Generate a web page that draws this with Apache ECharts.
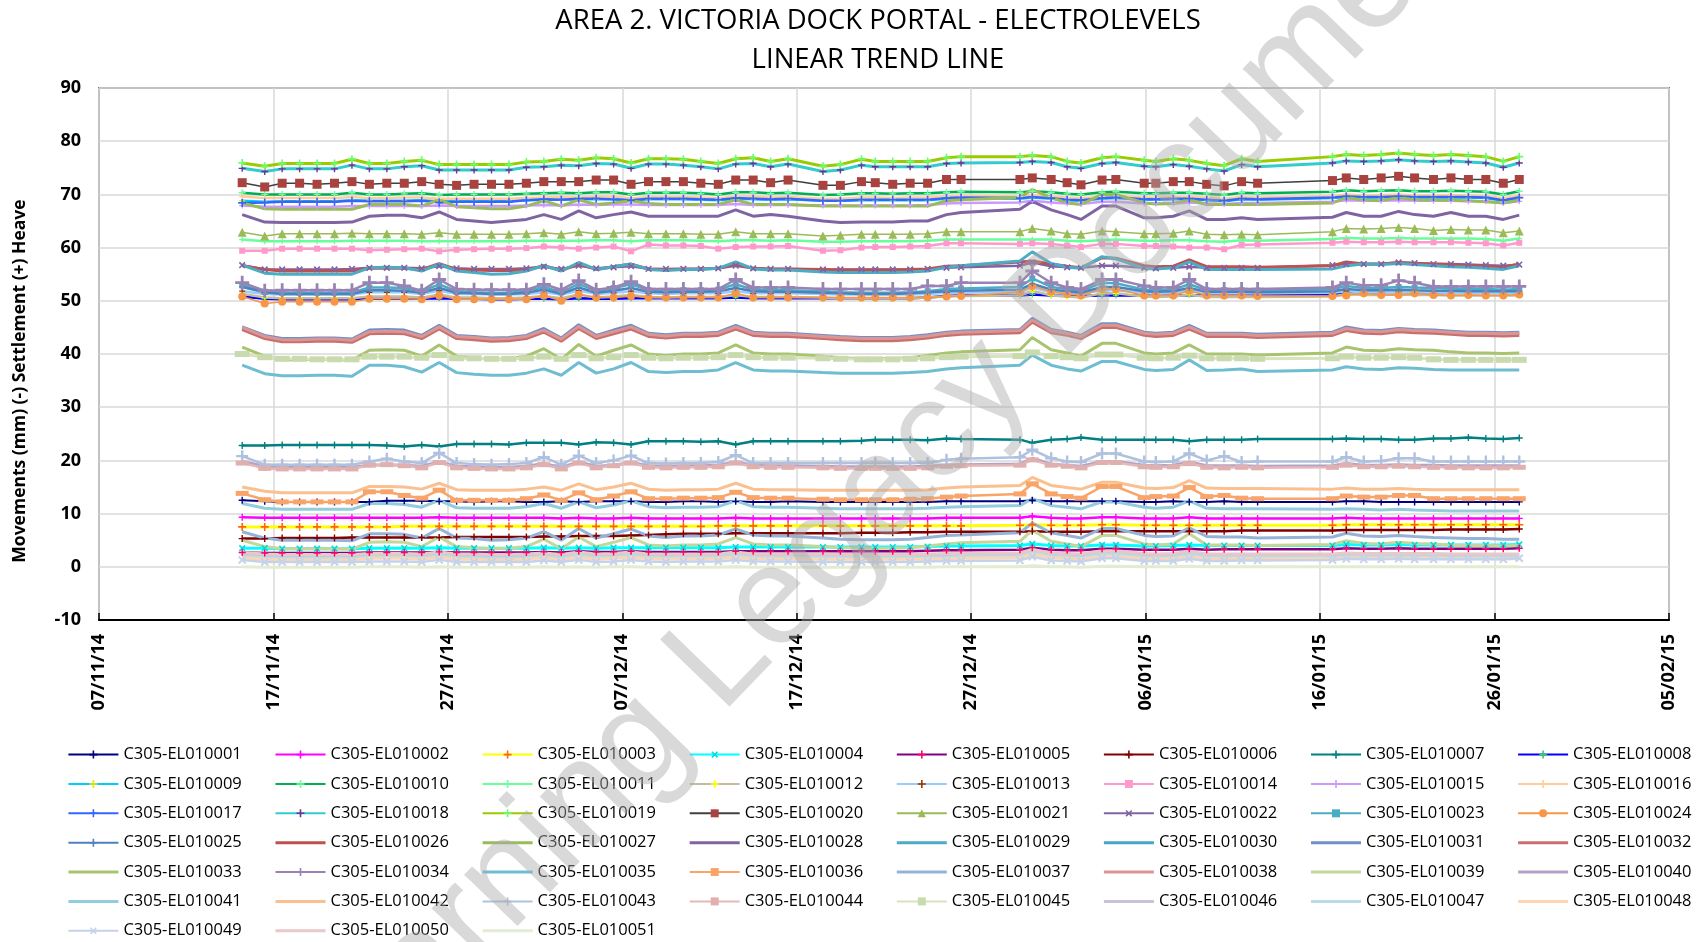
<!DOCTYPE html>
<html>
<head>
<meta charset="utf-8">
<script src="https://cdn.jsdelivr.net/npm/echarts@6/dist/echarts.min.js"></script>
<style>
html, body {margin:0; padding:0; background:#fff;}
#chart {width:1705px; height:942px;}
</style>
</head>
<body>
<div id="chart"></div>
<script>
// reading dates (one per marker on the chart)
const dates = [
  '2014-11-15 05:00','2014-11-16 12:00','2014-11-17 12:00','2014-11-18 12:00','2014-11-19 12:00','2014-11-20 12:00','2014-11-21 12:00','2014-11-22 12:00','2014-11-23 12:00','2014-11-24 12:00','2014-11-25 12:00','2014-11-26 12:00','2014-11-27 12:00','2014-11-28 12:00','2014-11-29 12:00','2014-11-30 12:00','2014-12-01 12:00',
  '2014-12-02 12:00','2014-12-03 12:00','2014-12-04 12:00','2014-12-05 12:00','2014-12-06 12:00','2014-12-07 12:00','2014-12-08 12:00','2014-12-09 12:00','2014-12-10 12:00','2014-12-11 12:00','2014-12-12 12:00','2014-12-13 12:00','2014-12-14 12:00','2014-12-15 12:00','2014-12-16 12:00','2014-12-18 12:00','2014-12-19 12:00',
  '2014-12-20 17:00','2014-12-21 12:00','2014-12-22 12:00','2014-12-23 12:00','2014-12-24 12:00','2014-12-25 14:00','2014-12-26 10:00','2014-12-29 19:00','2014-12-30 12:00','2014-12-31 14:00','2015-01-01 12:00','2015-01-02 07:00','2015-01-03 12:00','2015-01-04 07:00','2015-01-05 22:00','2015-01-06 14:00','2015-01-07 14:00',
  '2015-01-08 12:00','2015-01-09 12:00','2015-01-10 12:00','2015-01-11 12:00','2015-01-12 10:00','2015-01-16 17:00','2015-01-17 12:00','2015-01-18 12:00','2015-01-19 12:00','2015-01-20 12:00','2015-01-21 10:00','2015-01-22 12:00','2015-01-23 12:00','2015-01-24 12:00','2015-01-25 12:00','2015-01-26 12:00','2015-01-27 10:00'
];

// movements (mm) per electrolevel
const el001 = [12.5,12.3,12.2,12.2,12.2,12.2,12.2,12.2,12.4,12.4,12.4,12.3,12.3,12.2,12.3,12.3,12.2,
  12.2,12.3,12.2,12.3,12.3,12.3,12.2,12.2,12.3,12.3,12.2,12.3,12.2,12.2,12.3,12.2,12.2,
  12.2,12.2,12.2,12.2,12.2,12.3,12.3,12.3,12.5,12.3,12.3,12.3,12.3,12.3,12.2,12.2,12.3,
  12.2,12.2,12.3,12.2,12.2,12.2,12.3,12.3,12.2,12.2,12.2,12.2,12.2,12.2,12.2,12.2,12.2];
const el002 = [9.3,9.2,9.2,9.2,9.2,9.2,9.2,9.2,9.2,9.2,9.2,9.3,9.2,9.2,9.2,9.2,9.2,
  9.2,9.1,9.2,9.1,9.1,9.2,9.1,9.1,9.1,9.1,9.1,9.2,9.1,9.1,9.1,9.1,9.1,
  9.1,9.1,9.1,9.1,9.1,9.2,9.2,9.2,9.5,9.2,9.1,9.1,9.3,9.3,9.1,9.1,9.1,
  9.3,9.1,9.1,9.1,9.1,9.1,9.2,9.1,9.1,9.1,9.1,9.1,9.1,9.1,9.1,9.1,9.1];
const el003 = [7.5,7.5,7.5,7.5,7.5,7.5,7.5,7.5,7.5,7.6,7.6,7.6,7.6,7.6,7.6,7.6,7.6,
  7.6,7.6,7.6,7.6,7.6,7.6,7.6,7.6,7.6,7.6,7.7,7.7,7.7,7.7,7.7,7.7,7.7,
  7.7,7.7,7.7,7.7,7.7,7.7,7.7,7.8,7.9,7.8,7.8,7.8,7.9,7.9,7.8,7.8,7.8,
  7.8,7.8,7.8,7.8,7.8,7.8,7.9,7.9,7.9,7.9,7.9,7.9,7.9,7.9,7.9,7.9,7.9];
const el004 = [3.5,3.5,3.4,3.4,3.4,3.4,3.4,3.5,3.5,3.5,3.5,3.6,3.5,3.5,3.5,3.5,3.5,
  3.6,3.5,3.6,3.5,3.6,3.6,3.6,3.6,3.6,3.6,3.6,3.7,3.7,3.7,3.7,3.7,3.7,
  3.7,3.7,3.7,3.7,3.8,3.9,3.9,4.0,4.3,4.0,3.9,3.9,4.1,4.1,3.9,3.9,4.0,
  4.1,4.0,4.0,4.0,4.0,4.0,4.2,4.1,4.1,4.2,4.1,4.1,4.1,4.1,4.1,4.1,4.2];
const el005 = [2.7,2.6,2.6,2.6,2.6,2.6,2.6,2.7,2.7,2.7,2.7,2.8,2.7,2.7,2.7,2.7,2.7,
  2.8,2.7,2.9,2.8,2.8,2.9,2.8,2.8,2.8,2.8,2.8,2.9,2.9,2.9,2.9,2.9,2.9,
  2.9,2.9,2.9,2.9,3.0,3.1,3.1,3.2,3.6,3.2,3.1,3.1,3.4,3.4,3.2,3.2,3.2,
  3.4,3.2,3.3,3.3,3.3,3.3,3.5,3.4,3.4,3.5,3.4,3.4,3.4,3.4,3.4,3.4,3.5];
const el006 = [5.3,5.3,5.4,5.4,5.4,5.4,5.5,5.5,5.5,5.5,5.5,5.5,5.6,5.6,5.6,5.6,5.6,
  5.7,5.7,5.8,5.8,5.8,5.9,6.0,6.1,6.2,6.2,6.2,6.3,6.3,6.3,6.3,6.3,6.3,
  6.4,6.4,6.4,6.5,6.5,6.6,6.6,6.6,6.7,6.6,6.6,6.6,6.7,6.7,6.7,6.7,6.7,
  6.7,6.7,6.7,6.8,6.8,6.8,6.9,6.9,6.9,6.9,6.9,6.9,7.0,7.0,7.0,7.0,7.1];
const el007 = [22.8,22.8,22.9,22.9,22.9,22.9,22.9,22.9,22.8,22.6,22.9,22.6,23.1,23.1,23.1,23.0,23.3,
  23.3,23.3,23.0,23.4,23.3,23.0,23.6,23.6,23.6,23.5,23.6,23.0,23.6,23.6,23.6,23.6,23.6,
  23.7,23.9,23.9,23.9,23.8,24.1,24.0,23.9,23.3,23.9,24.0,24.3,23.9,23.9,23.9,23.9,23.9,
  23.6,23.9,23.9,23.9,24.0,24.0,24.1,24.0,24.0,23.9,23.9,24.1,24.1,24.3,24.1,24.0,24.2];
const el008 = [50.8,50.4,50.3,50.3,50.3,50.3,50.3,50.4,50.4,50.4,50.4,50.5,50.4,50.4,50.3,50.3,50.4,
  50.4,50.3,50.5,50.4,50.4,50.5,50.5,50.5,50.5,50.5,50.5,50.6,50.5,50.5,50.5,50.5,50.5,
  50.5,50.5,50.5,50.5,50.6,50.9,51.0,51.0,51.2,51.0,50.9,50.9,51.0,51.0,51.0,50.9,51.0,
  51.1,51.0,51.0,51.0,51.0,51.1,51.6,51.6,51.6,51.7,51.6,51.6,51.6,51.6,51.6,51.6,51.7];
const el009 = [68.8,68.6,68.7,68.7,68.7,68.7,68.9,68.8,68.8,68.8,68.9,68.7,68.7,68.7,68.7,68.7,68.9,
  69.0,69.0,69.1,69.1,69.1,68.9,69.1,69.1,69.1,69.0,68.9,69.2,69.1,69.0,69.1,68.8,68.8,
  68.9,68.9,68.9,68.9,68.9,69.2,69.3,69.2,69.4,69.2,68.9,68.8,69.2,69.3,69.0,69.0,69.1,
  69.1,68.9,68.7,69.1,69.0,69.3,69.5,69.4,69.4,69.5,69.4,69.4,69.4,69.4,69.3,68.8,69.3];
const el010 = [70.3,70.0,70.0,70.0,70.0,70.0,70.3,70.0,70.0,70.1,70.2,69.9,70.0,70.0,70.0,70.0,70.1,
  70.2,70.3,70.2,70.4,70.4,70.0,70.3,70.3,70.3,70.2,70.0,70.4,70.4,70.2,70.3,69.9,70.0,
  70.2,70.2,70.1,70.2,70.2,70.4,70.5,70.4,70.6,70.4,70.1,70.0,70.4,70.5,70.2,70.2,70.3,
  70.3,70.1,69.9,70.3,70.2,70.5,70.8,70.6,70.7,70.8,70.6,70.6,70.7,70.6,70.5,70.0,70.6];
const el011 = [61.5,61.2,61.2,61.2,61.2,61.2,61.3,61.3,61.3,61.3,61.2,61.2,61.2,61.2,61.2,61.2,61.3,
  61.3,61.3,61.3,61.4,61.4,61.2,61.4,61.4,61.4,61.3,61.2,61.4,61.4,61.3,61.4,61.1,61.1,
  61.2,61.2,61.2,61.2,61.3,61.5,61.5,61.5,61.5,61.5,61.3,61.2,61.4,61.5,61.3,61.3,61.4,
  61.4,61.2,61.1,61.4,61.3,61.6,61.8,61.7,61.7,61.8,61.7,61.7,61.7,61.7,61.6,61.3,61.7];
const el012 = [51.3,50.6,50.5,50.5,50.5,50.5,50.5,50.8,50.8,50.8,50.6,51.2,50.6,50.6,50.5,50.5,50.6,
  50.9,50.5,51.2,50.6,50.8,51.1,50.7,50.6,50.7,50.7,50.7,51.1,50.7,50.7,50.7,50.6,50.5,
  50.5,50.5,50.5,50.5,50.6,50.8,50.9,51.0,51.9,51.0,50.8,50.6,51.4,51.4,50.8,50.7,50.8,
  51.2,50.7,50.7,50.7,50.7,50.8,51.3,51.1,51.1,51.2,51.1,51.1,51.0,51.0,51.0,51.0,51.0];
const el013 = [51.8,51.3,51.2,51.2,51.2,51.2,51.2,51.6,51.6,51.6,51.3,51.9,51.3,51.3,51.2,51.2,51.3,
  51.6,51.2,51.9,51.3,51.5,51.8,51.4,51.3,51.4,51.4,51.4,51.8,51.4,51.4,51.4,51.3,51.2,
  51.2,51.2,51.2,51.2,51.3,51.5,51.5,51.6,52.5,51.6,51.5,51.3,52.0,52.0,51.5,51.4,51.5,
  51.9,51.4,51.4,51.4,51.4,51.5,51.8,51.6,51.6,51.7,51.6,51.6,51.5,51.5,51.5,51.5,51.5];
const el014 = [59.4,59.4,59.8,59.8,59.8,59.8,59.8,59.5,59.6,59.7,59.8,59.3,59.6,59.7,59.8,59.8,59.9,
  60.2,60.0,59.8,60.0,60.2,59.3,60.6,60.4,60.4,60.3,59.8,60.1,60.2,60.2,60.3,59.4,59.5,
  60.0,60.1,60.1,60.2,60.3,60.8,60.8,60.7,60.8,60.7,60.4,60.1,60.7,60.7,60.3,60.3,60.2,
  60.0,60.0,59.7,60.5,60.6,60.9,61.1,61.0,61.0,61.1,61.0,61.0,61.0,60.9,60.8,60.4,60.9];
const el015 = [67.9,67.7,67.7,67.7,67.7,67.7,67.8,67.8,67.8,67.8,67.8,67.9,67.8,67.8,67.8,67.8,67.9,
  68.0,67.9,68.1,68.0,68.1,68.1,68.0,68.0,68.0,68.0,68.0,68.2,68.0,68.0,68.0,67.9,67.9,
  67.9,67.9,67.9,67.9,68.0,68.3,68.4,68.5,68.8,68.5,68.3,68.2,68.6,68.6,68.3,68.3,68.3,
  68.5,68.3,68.2,68.4,68.4,68.6,68.9,68.8,68.8,68.9,68.8,68.8,68.8,68.7,68.7,68.4,68.7];
const el016 = [69.6,69.3,69.3,69.3,69.3,69.3,69.5,69.3,69.3,69.4,69.4,69.2,69.2,69.2,69.2,69.2,69.3,
  69.4,69.5,69.4,69.6,69.6,69.3,69.5,69.5,69.5,69.4,69.3,69.6,69.6,69.4,69.5,69.2,69.2,
  69.4,69.4,69.3,69.4,69.4,69.6,69.7,69.6,69.9,69.6,69.4,69.3,69.6,69.7,69.4,69.4,69.5,
  69.5,69.4,69.2,69.5,69.4,69.7,70.0,69.8,69.9,70.0,69.8,69.8,69.9,69.8,69.7,69.3,69.8];
const el017 = [68.4,68.5,68.6,68.6,68.6,68.6,68.8,68.7,68.7,68.7,68.8,68.5,68.6,68.6,68.6,68.6,68.9,
  69.1,69.0,69.2,69.2,69.1,68.9,69.2,69.2,69.2,69.1,69.0,69.3,69.2,69.1,69.2,68.8,68.8,
  69.0,69.0,69.0,69.0,69.0,69.3,69.4,69.3,69.5,69.3,69.0,68.9,69.3,69.4,69.1,69.1,69.2,
  69.2,69.0,68.8,69.2,69.1,69.4,69.6,69.5,69.5,69.6,69.5,69.5,69.5,69.5,69.4,68.9,69.4];
const el018 = [74.9,74.3,74.8,74.8,74.8,74.8,75.5,74.8,74.8,75.2,75.4,74.6,74.6,74.6,74.6,74.6,75.1,
  75.2,75.5,75.4,75.8,75.7,74.9,75.7,75.7,75.5,75.2,74.8,75.7,75.8,75.2,75.7,74.3,74.6,
  75.5,75.2,75.2,75.2,75.2,75.8,75.9,76.0,76.2,76.0,75.2,74.9,75.8,76.0,75.3,75.2,75.6,
  75.3,74.8,74.4,75.6,75.2,75.9,76.3,76.2,76.3,76.5,76.3,76.2,76.3,76.1,75.9,75.1,75.9];
const el019 = [75.9,75.3,75.8,75.8,75.8,75.8,76.6,75.8,75.8,76.2,76.4,75.6,75.6,75.6,75.6,75.6,76.1,
  76.2,76.6,76.4,76.9,76.7,75.9,76.7,76.7,76.6,76.2,75.8,76.7,76.9,76.2,76.7,75.3,75.6,
  76.6,76.2,76.2,76.2,76.2,76.9,77.1,77.1,77.3,77.1,76.2,75.9,76.9,77.1,76.4,76.2,76.7,
  76.4,75.8,75.4,76.7,76.2,77.1,77.5,77.3,77.5,77.8,77.5,77.3,77.5,77.3,77.1,76.2,77.1];
const el020 = [72.2,71.4,72.1,72.1,71.9,72.1,72.4,71.9,72.1,72.1,72.4,71.9,71.7,71.9,71.9,71.9,72.1,
  72.4,72.4,72.4,72.7,72.7,71.9,72.4,72.4,72.4,72.1,71.9,72.7,72.7,72.2,72.7,71.7,71.7,
  72.4,72.2,71.9,72.1,72.1,72.8,72.8,72.8,73.1,72.8,72.2,71.8,72.7,72.8,72.1,72.1,72.4,
  72.4,71.9,71.6,72.4,72.1,72.6,73.1,72.8,73.1,73.4,73.1,72.8,73.1,72.8,72.8,72.1,72.8];
const el021 = [62.9,62.2,62.6,62.6,62.6,62.6,62.7,62.6,62.6,62.6,62.5,62.8,62.5,62.5,62.5,62.5,62.6,
  62.8,62.5,63.0,62.6,62.7,62.9,62.6,62.6,62.6,62.5,62.5,63.0,62.6,62.6,62.6,62.2,62.3,
  62.5,62.5,62.5,62.5,62.6,63.0,63.0,63.0,63.6,63.1,62.6,62.5,63.1,63.0,62.6,62.6,62.7,
  63.1,62.5,62.4,62.5,62.4,63.0,63.6,63.5,63.6,63.8,63.6,63.2,63.4,63.3,63.3,62.8,63.1];
const el022 = [56.7,55.9,55.9,55.9,55.9,55.9,56.0,56.2,56.2,56.2,56.1,56.5,56.1,56.0,56.0,56.0,56.1,
  56.4,56.0,56.6,56.1,56.3,56.5,56.0,56.0,56.0,56.0,56.1,56.6,56.1,56.0,56.0,55.9,55.9,
  55.9,55.9,55.9,55.9,56.0,56.2,56.3,56.6,57.2,56.5,56.3,56.2,56.6,56.6,56.2,56.1,56.2,
  56.4,56.2,56.2,56.2,56.2,56.7,56.9,56.9,56.9,57.2,57.1,56.9,56.9,56.8,56.7,56.6,56.8];
const el023 = [52.9,51.7,51.5,51.5,51.5,51.5,51.5,52.5,52.5,52.4,51.8,53.1,51.8,51.6,51.5,51.5,51.8,
  52.6,51.6,53.2,51.8,52.4,53.1,52.0,51.8,52.0,52.0,52.1,53.1,52.1,52.0,52.0,51.8,51.6,
  51.5,51.5,51.5,51.6,51.8,52.2,52.3,52.6,54.2,52.6,52.2,51.8,53.4,53.3,52.1,52.0,52.1,
  53.1,52.0,52.0,52.0,51.9,52.2,52.8,52.4,52.4,52.6,52.5,52.4,52.3,52.2,52.2,52.1,52.2];
const el024 = [50.8,49.5,49.8,49.8,49.8,49.8,49.8,50.4,50.4,50.4,50.3,51.0,50.3,50.3,50.3,50.3,50.3,
  51.0,50.0,51.2,50.6,50.6,50.9,50.6,50.6,50.6,50.6,50.6,51.4,50.6,50.6,50.6,50.6,50.6,
  50.6,50.6,50.6,50.6,50.6,50.8,50.9,51.6,52.8,51.7,51.3,51.0,52.2,52.2,51.0,51.0,51.0,
  51.9,51.0,51.0,51.0,50.9,50.9,51.0,51.4,51.1,51.1,51.4,51.1,51.0,51.1,51.0,51.0,51.2];
const el025 = [52.6,51.6,51.3,51.3,51.3,51.3,51.3,52.0,52.0,51.9,51.5,52.4,51.5,51.4,51.3,51.3,51.5,
  52.1,51.3,52.5,51.5,51.9,52.4,51.7,51.6,51.7,51.7,51.8,52.4,51.8,51.7,51.7,51.5,51.4,
  51.3,51.3,51.3,51.4,51.6,51.8,51.9,52.1,53.2,52.1,51.8,51.5,52.6,52.6,51.8,51.7,51.8,
  52.4,51.7,51.7,51.7,51.6,51.8,52.2,52.0,52.0,52.1,52.0,51.9,51.9,51.8,51.8,51.8,51.8];
const el026 = [56.6,55.9,55.6,55.6,55.6,55.6,55.6,56.1,56.1,56.1,55.9,57.0,55.9,55.8,55.7,55.7,55.8,
  56.6,55.7,56.9,55.9,56.4,56.9,56.0,55.9,56.0,56.0,56.1,56.9,56.1,56.0,56.0,55.9,55.8,
  55.8,55.8,55.8,55.9,56.0,56.5,56.6,57.3,57.5,56.9,56.5,56.2,58.1,58.0,56.6,56.4,56.5,
  57.7,56.4,56.4,56.4,56.3,56.6,57.3,56.9,56.9,57.2,57.0,56.9,56.8,56.6,56.5,56.3,56.9];
const el027 = [68.4,67.3,67.2,67.2,67.2,67.2,67.2,68.1,68.1,68.1,67.8,69.0,67.7,67.5,67.3,67.3,67.8,
  68.8,67.8,69.0,68.1,68.4,68.8,68.3,68.1,68.1,68.1,68.1,69.0,68.1,68.1,68.1,67.8,67.8,
  67.8,67.8,67.8,67.8,67.8,68.8,69.0,69.4,70.9,69.4,68.4,68.1,70.0,70.0,68.4,68.2,68.3,
  69.0,68.1,68.1,68.1,68.1,68.4,69.4,68.9,68.8,69.4,69.0,68.9,68.9,68.8,68.6,68.4,68.9];
const el028 = [66.2,64.8,64.7,64.7,64.7,64.7,64.8,65.9,66.1,66.1,65.6,66.7,65.3,65.0,64.7,65.0,65.3,
  66.2,65.3,66.9,65.6,66.2,66.7,65.9,65.9,65.9,65.9,65.9,67.1,65.9,66.2,65.9,65.0,64.7,
  64.8,64.8,64.8,65.0,65.0,66.2,66.6,67.2,68.7,67.1,66.2,65.3,67.8,67.8,65.6,65.6,65.9,
  66.9,65.3,65.3,65.6,65.3,65.7,66.6,65.9,65.9,66.8,66.2,65.9,66.6,65.9,65.9,65.3,66.1];
const el029 = [56.7,55.2,55.0,55.0,55.0,55.0,55.0,56.2,56.3,56.2,55.6,56.9,55.6,55.3,55.0,55.1,55.6,
  56.6,55.6,57.2,55.9,56.4,56.9,55.9,55.7,55.9,55.9,56.1,57.3,56.0,55.8,55.8,55.4,55.3,
  55.3,55.3,55.3,55.4,55.6,56.3,56.6,57.5,59.2,57.0,56.3,56.1,58.3,57.9,56.1,56.0,56.2,
  57.3,55.9,55.9,55.9,55.9,56.0,56.6,56.9,56.8,57.0,56.8,56.6,56.4,56.3,56.1,55.9,56.6];
const el030 = [44.8,43.2,42.6,42.6,42.7,42.7,42.5,44.2,44.3,44.2,43.2,45.1,43.2,43.0,42.7,42.8,43.2,
  44.5,42.7,45.2,43.2,44.2,45.1,43.6,43.3,43.6,43.6,43.8,45.1,43.8,43.6,43.6,43.2,43.0,
  42.8,42.8,42.8,43.0,43.3,43.8,44.0,44.3,46.4,44.3,43.8,43.2,45.4,45.4,43.8,43.6,43.8,
  45.1,43.6,43.6,43.6,43.4,43.8,44.8,44.2,44.1,44.5,44.3,44.2,44.0,43.8,43.8,43.7,43.8];
const el031 = [45.1,43.5,42.9,42.9,43.0,43.0,42.8,44.5,44.6,44.5,43.5,45.4,43.5,43.3,43.0,43.1,43.5,
  44.8,43.0,45.5,43.5,44.5,45.4,43.9,43.6,43.9,43.9,44.1,45.4,44.1,43.9,43.9,43.5,43.3,
  43.1,43.1,43.1,43.3,43.6,44.1,44.3,44.6,46.7,44.6,44.1,43.5,45.7,45.7,44.1,43.9,44.1,
  45.4,43.9,43.9,43.9,43.7,44.1,45.1,44.5,44.4,44.8,44.6,44.5,44.3,44.1,44.1,44.0,44.1];
const el032 = [44.6,42.9,42.3,42.3,42.4,42.4,42.2,43.8,43.9,43.8,42.9,44.7,42.9,42.7,42.4,42.5,42.9,
  44.1,42.4,44.8,42.9,43.8,44.7,43.3,43.0,43.3,43.3,43.5,44.7,43.5,43.3,43.3,42.9,42.7,
  42.5,42.5,42.5,42.7,43.0,43.5,43.7,44.0,46.0,44.0,43.5,42.9,45.0,45.0,43.5,43.3,43.5,
  44.7,43.3,43.3,43.3,43.1,43.5,44.4,43.9,43.8,44.2,44.0,43.9,43.7,43.5,43.5,43.4,43.5];
const el033 = [41.3,39.6,38.9,38.9,39.0,39.0,38.8,40.7,40.8,40.7,39.6,41.7,39.6,39.3,39.0,39.1,39.6,
  41.0,39.0,41.8,39.6,40.7,41.7,40.0,39.7,40.0,40.0,40.2,41.7,40.2,40.0,40.0,39.6,39.3,
  39.1,39.1,39.1,39.3,39.7,40.2,40.4,40.8,43.1,40.8,40.2,39.6,42.0,42.0,40.2,40.0,40.2,
  41.7,40.0,40.0,40.0,39.8,40.2,41.3,40.7,40.6,41.0,40.8,40.7,40.4,40.2,40.2,40.1,40.2];
const el034 = [53.4,51.9,52.0,52.0,52.0,52.0,52.0,53.4,53.4,52.8,51.9,54.0,52.2,52.1,52.1,52.1,52.1,
  53.1,52.1,53.8,52.1,52.5,53.6,52.2,52.2,52.2,52.2,52.2,54.0,52.5,52.5,52.5,52.2,52.2,
  52.2,52.2,52.2,52.2,52.8,52.8,53.4,53.4,55.6,53.4,52.5,52.2,54.0,54.0,52.8,52.5,52.5,
  54.0,52.2,52.2,52.2,52.2,52.5,53.4,52.9,52.9,53.8,53.4,52.7,52.7,52.7,52.7,52.7,52.7];
const el035 = [37.9,36.3,35.9,35.9,36.0,36.0,35.8,37.9,37.9,37.6,36.6,38.4,36.5,36.2,36.0,36.0,36.4,
  37.2,36.0,38.4,36.4,37.2,38.4,36.7,36.5,36.7,36.7,37.0,38.4,37.0,36.8,36.8,36.5,36.4,
  36.4,36.4,36.4,36.5,36.7,37.2,37.4,37.9,39.8,37.9,37.2,36.8,38.6,38.6,37.1,36.9,37.1,
  38.9,36.9,37.0,37.2,36.7,37.0,37.6,37.2,37.1,37.4,37.3,37.1,37.0,37.0,37.0,37.0,37.0];
const el036 = [13.8,12.6,12.2,12.2,12.2,12.2,12.2,14.1,14.1,13.4,12.9,14.4,12.5,12.5,12.5,12.5,12.8,
  13.5,12.5,13.9,12.6,13.3,14.1,12.8,12.8,12.9,12.9,13.0,14.0,13.0,12.9,12.9,12.7,12.6,
  12.6,12.6,12.6,12.7,12.8,13.1,13.3,13.7,15.6,13.7,13.2,12.9,15.1,15.1,13.0,13.2,13.3,
  14.9,13.2,13.4,12.9,12.8,12.8,13.3,13.1,13.1,13.4,13.4,12.8,12.8,12.8,12.8,12.8,12.8];
const el037 = [6.6,5.4,5.0,5.0,5.0,5.0,4.9,6.2,6.2,6.1,5.4,7.2,5.4,5.3,5.0,5.1,5.4,
  6.6,5.0,7.2,5.4,6.2,7.1,5.8,5.5,5.8,5.8,6.0,7.1,6.0,5.8,5.8,5.4,5.2,
  5.1,5.1,5.1,5.2,5.5,5.9,6.0,6.4,8.2,6.4,5.9,5.4,7.2,7.2,5.9,5.7,5.8,
  7.3,5.7,5.6,5.6,5.4,5.6,6.3,5.8,5.7,5.9,5.7,5.5,5.4,5.3,5.3,5.2,5.2];
const el038 = [45.0,43.3,42.7,42.7,42.8,42.8,42.6,44.2,44.3,44.2,43.3,45.1,43.3,43.1,42.8,42.9,43.3,
  44.5,42.8,45.2,43.3,44.2,45.1,43.7,43.4,43.7,43.7,43.9,45.1,43.9,43.7,43.7,43.3,43.1,
  42.9,42.9,42.9,43.1,43.4,43.9,44.1,44.4,46.4,44.4,43.9,43.3,45.4,45.4,43.9,43.7,43.9,
  45.1,43.7,43.7,43.7,43.5,43.9,44.8,44.3,44.2,44.6,44.4,44.3,44.1,43.9,43.9,43.8,43.9];
const el039 = [5.0,3.8,3.4,3.4,3.4,3.4,3.3,4.6,4.7,4.6,3.8,5.6,3.8,3.6,3.4,3.5,3.8,
  5.2,3.4,5.6,3.8,4.6,5.5,4.1,3.9,4.1,4.1,4.3,5.5,4.3,4.1,4.1,3.8,3.6,
  3.5,3.5,3.5,3.6,3.9,4.3,4.5,4.8,6.9,4.8,4.3,3.8,5.9,5.9,4.3,4.1,4.3,
  6.2,4.1,4.1,4.1,4.0,4.2,4.9,4.4,4.3,4.6,4.4,4.3,4.1,4.0,4.0,3.9,4.0];
const el040 = [19.8,18.9,18.7,18.7,18.7,18.7,18.7,19.1,19.2,19.1,18.9,19.7,18.9,18.8,18.7,18.7,18.9,
  19.4,18.7,19.7,18.9,19.1,19.6,19.0,18.9,19.0,19.0,19.1,19.7,19.1,19.0,19.0,18.9,18.8,
  18.8,18.8,18.8,18.8,18.9,19.1,19.2,19.3,20.4,19.3,19.1,18.9,19.8,19.8,19.1,19.0,19.1,
  19.7,19.0,19.0,19.0,18.9,19.0,19.4,19.1,19.1,19.2,19.1,19.1,19.0,19.0,19.0,19.0,19.0];
const el041 = [11.9,11.0,10.8,10.8,10.8,10.8,10.8,11.9,11.9,11.7,11.2,12.5,11.1,11.0,11.0,11.0,11.3,
  11.9,11.0,12.2,11.1,11.6,12.4,11.3,11.1,11.2,11.2,11.3,12.4,11.3,11.2,11.2,11.0,10.9,
  10.9,10.9,10.9,10.9,11.0,11.2,11.3,11.5,12.8,11.5,11.2,10.9,12.2,12.2,11.2,11.0,11.2,
  12.4,11.0,10.9,10.9,10.9,10.8,10.9,10.8,10.7,10.8,10.7,10.6,10.5,10.5,10.5,10.5,10.5];
const el042 = [15.0,14.2,13.9,13.9,13.9,13.9,13.9,15.1,15.1,15.0,14.6,15.7,14.5,14.4,14.4,14.4,14.6,
  15.0,14.4,15.6,14.5,15.0,15.7,14.6,14.4,14.5,14.5,14.6,15.7,14.6,14.5,14.5,14.4,14.4,
  14.4,14.4,14.4,14.4,14.5,14.8,15.0,15.3,16.8,15.3,14.9,14.6,15.9,15.9,14.8,14.7,14.9,
  16.2,14.8,14.7,14.7,14.7,14.6,14.8,14.6,14.6,14.7,14.6,14.5,14.5,14.5,14.5,14.5,14.5];
const el043 = [20.8,19.2,19.2,19.2,19.2,19.2,19.2,19.8,20.3,19.8,19.5,21.4,19.5,19.3,19.2,19.3,19.5,
  20.6,19.2,20.9,19.5,20.0,20.9,19.5,19.4,19.5,19.5,19.7,21.0,19.5,19.5,19.5,19.5,19.5,
  19.5,19.5,19.5,19.5,19.5,20.1,20.3,20.6,22.0,20.4,19.8,19.7,21.3,21.3,19.8,19.7,19.8,
  21.3,20.0,20.8,19.7,19.8,19.8,20.6,19.8,19.9,20.4,20.4,19.8,19.8,19.8,19.8,19.8,19.8];
const el044 = [19.5,18.5,18.4,18.4,18.4,18.4,18.4,19.1,19.2,19.0,18.6,19.6,18.6,18.5,18.4,18.4,18.6,
  19.2,18.4,19.5,18.6,19.0,19.5,18.7,18.6,18.7,18.7,18.8,19.5,18.8,18.7,18.7,18.6,18.5,
  18.5,18.5,18.5,18.5,18.6,18.9,19.0,19.1,20.1,19.1,18.9,18.6,19.6,19.6,18.8,18.7,18.8,
  19.4,18.7,18.6,18.7,18.6,18.7,19.1,18.8,18.8,18.9,18.8,18.7,18.7,18.6,18.6,18.6,18.7];
const el045 = [40.0,39.4,39.1,39.1,39.0,39.0,39.0,39.5,39.5,39.5,39.3,39.8,39.2,39.2,39.1,39.1,39.2,
  39.5,39.1,39.8,39.2,39.4,39.8,39.3,39.2,39.3,39.3,39.4,39.8,39.4,39.3,39.3,39.2,39.1,
  39.0,39.0,39.0,39.1,39.2,39.4,39.5,39.6,40.3,39.6,39.4,39.2,39.9,39.9,39.3,39.2,39.3,
  39.7,39.2,39.2,39.2,39.1,39.2,39.5,39.3,39.3,39.4,39.3,39.0,38.9,38.9,38.9,38.9,38.9];
const el046 = [2.4,2.1,2.0,2.0,2.0,2.0,2.0,2.3,2.3,2.3,2.1,2.6,2.1,2.1,2.0,2.0,2.1,
  2.4,2.0,2.6,2.1,2.3,2.6,2.2,2.1,2.2,2.2,2.2,2.6,2.2,2.2,2.2,2.1,2.1,
  2.1,2.1,2.1,2.1,2.1,2.2,2.3,2.4,3.2,2.4,2.3,2.1,2.8,2.8,2.2,2.2,2.2,
  2.7,2.2,2.2,2.2,2.2,2.2,2.4,2.3,2.3,2.3,2.3,2.3,2.2,2.2,2.2,2.2,2.2];
const el047 = [2.0,1.7,1.6,1.6,1.6,1.6,1.6,1.9,1.9,1.9,1.7,2.2,1.7,1.7,1.6,1.6,1.7,
  2.0,1.6,2.2,1.7,1.9,2.2,1.8,1.7,1.8,1.8,1.8,2.2,1.8,1.8,1.8,1.7,1.7,
  1.7,1.7,1.7,1.7,1.7,1.8,1.9,2.0,2.8,2.0,1.9,1.7,2.4,2.4,1.8,1.8,1.8,
  2.3,1.8,1.8,1.8,1.8,1.8,2.0,1.9,1.9,1.9,1.9,1.9,1.8,1.8,1.8,1.8,1.8];
const el048 = [1.7,1.4,1.3,1.3,1.3,1.3,1.3,1.6,1.6,1.6,1.4,1.8,1.4,1.4,1.3,1.3,1.4,
  1.7,1.3,1.8,1.4,1.6,1.8,1.5,1.4,1.5,1.5,1.5,1.8,1.5,1.5,1.5,1.4,1.4,
  1.4,1.4,1.4,1.4,1.4,1.5,1.6,1.7,2.4,1.7,1.6,1.4,2.0,2.0,1.5,1.5,1.5,
  1.9,1.5,1.5,1.5,1.5,1.5,1.7,1.6,1.6,1.6,1.6,1.6,1.5,1.5,1.5,1.5,1.5];
const el049 = [1.3,0.9,0.9,0.9,0.9,0.9,0.9,1.0,1.0,1.0,0.9,1.3,0.9,0.9,0.9,0.9,0.9,
  1.2,0.9,1.3,0.9,1.0,1.3,1.0,0.9,1.0,1.0,1.0,1.3,1.0,1.0,1.0,0.9,0.9,
  0.9,0.9,0.9,0.9,1.0,1.1,1.1,1.2,1.9,1.2,1.1,1.0,1.6,1.6,1.1,1.1,1.1,
  1.5,1.1,1.1,1.2,1.2,1.3,1.5,1.4,1.4,1.5,1.4,1.4,1.4,1.4,1.4,1.4,1.6];
const el050 = [2.7,2.4,2.3,2.3,2.3,2.3,2.3,2.5,2.5,2.5,2.4,2.8,2.4,2.4,2.3,2.3,2.4,
  2.6,2.3,2.8,2.4,2.5,2.8,2.4,2.4,2.4,2.4,2.4,2.8,2.4,2.4,2.4,2.4,2.3,
  2.3,2.3,2.3,2.3,2.4,2.5,2.5,2.6,3.3,2.6,2.5,2.4,3.0,3.0,2.5,2.4,2.5,
  2.9,2.4,2.4,2.4,2.4,2.4,2.6,2.5,2.5,2.5,2.5,2.5,2.4,2.4,2.4,2.4,2.4];
const el051 = [0.0,-0.1,-0.1,-0.1,-0.1,-0.1,-0.1,0.0,0.0,0.0,-0.1,0.0,-0.1,-0.1,-0.1,-0.1,-0.1,
  0.0,-0.1,0.0,-0.1,0.0,0.0,-0.1,-0.1,-0.1,-0.1,-0.1,0.0,-0.1,-0.1,-0.1,-0.1,-0.1,
  -0.1,-0.1,-0.1,-0.1,-0.1,0.0,0.0,0.0,0.2,0.0,0.0,-0.1,0.1,0.1,0.0,0.0,0.0,
  0.1,0.0,0.0,0.0,0.0,0.0,0.0,0.0,0.0,0.0,0.0,0.0,0.0,0.0,0.0,0.0,0.0];

const allValues = [el001,el002,el003,el004,el005,el006,el007,el008,el009,el010,
  el011,el012,el013,el014,el015,el016,el017,el018,el019,el020,
  el021,el022,el023,el024,el025,el026,el027,el028,el029,el030,
  el031,el032,el033,el034,el035,el036,el037,el038,el039,el040,
  el041,el042,el043,el044,el045,el046,el047,el048,el049,el050,el051];
const names = allValues.map((v, i) => 'C305-EL0100' + String(i + 1).padStart(2, '0'));

// marker shapes
const PLUS = 'path://M4,0H6V4H10V6H6V10H4V6H0V4H4Z';
const DASH = 'path://M0,0H10V4H0Z';
// [line colour, marker, marker size, marker colour, line width, marker rotation]
const looks = [
  ['#000080', PLUS, 7, '#000080', 2],
  ['#FF00FF', PLUS, 7, '#FF00FF', 2.5],
  ['#FFFF00', PLUS, 8, '#FF6600', 3],
  ['#00FFFF', PLUS, 8, '#00DDDD', 3, 45],
  ['#800080', PLUS, 7, '#FF0066', 2.5],
  ['#800000', PLUS, 7, '#800000', 2.5],
  ['#008080', PLUS, 7, '#008080', 2.5],
  ['#0000FF', PLUS, 6, '#33CC66', 2.5],
  ['#00CCFF', PLUS, 6, '#E6E600', 2.5],
  ['#00B050', PLUS, 7, '#66FF99', 2.5],
  ['#66FF99', PLUS, 6, '#66FF99', 2.5],
  ['#C4BD97', PLUS, 6, '#FFFF00', 2.5],
  ['#99CCFF', PLUS, 6, '#993300', 2.5],
  ['#FF99CC', 'rect', 6, '#FF99CC', 2.5],
  ['#CC99FF', PLUS, 6, '#CC99FF', 2.5],
  ['#FFCC99', PLUS, 6, '#FFCC99', 2.5],
  ['#3366FF', PLUS, 8, '#3366FF', 2.5],
  ['#33CCCC', PLUS, 7, '#7030A0', 3],
  ['#99CC00', PLUS, 8, '#66FF66', 3],
  ['#404040', 'rect', 9, '#A9433F', 1.5],
  ['#9BBB59', 'triangle', 9, '#9BBB59', 1.5],
  ['#8064A2', PLUS, 8, '#8064A2', 2.5, 45],
  ['#4BACC6', 'rect', 6, '#4BACC6', 2.5],
  ['#F79646', 'circle', 8, '#F79646', 1.5],
  ['#4F81BD', PLUS, 6, '#4F81BD', 2.5],
  ['#C0504D', 'none'], ['#9BBB59', 'none'], ['#8064A2', 'none'], ['#4BACC6', 'none'], ['#46A5C2', 'none'],
  ['#6F8FC9', 'none'], ['#C9706E', 'none'], ['#A9C46E', 'none'],
  ['#9983B5', PLUS, 14, '#9983B5', 2.5],
  ['#6FBDD1', 'none'],
  ['#F9A56A', DASH, [13, 5], '#F9A56A', 2.5],
  ['#95B3D7', 'none'], ['#D99694', 'none'], ['#C3D69B', 'none'], ['#B3A2C7', 'none'],
  ['#93CDDD', 'none'], ['#FAC090', 'none'],
  ['#B0C1E0', PLUS, 12, '#B0C1E0', 2.5],
  ['#E6B9B8', DASH, [13, 5], '#E0B0AF', 2.5],
  ['#D7E4BD', DASH, [15, 6], '#C9DBAE', 3],
  ['#CCC1DA', 'none'], ['#B7DEE8', 'none'], ['#FCD5B5', 'none'],
  ['#C6D2E8', PLUS, 10, '#C6D2E8', 2.5, 45],
  ['#E8C8C8', 'none'], ['#E3EBD3', 'none']
];

const T0 = Date.UTC(2014, 10, 7);
const DAY = 864e5;
const xDays = dates.map(d => (Date.parse(d.replace(' ', 'T') + ':00Z') - T0) / DAY);
const pad2 = n => String(n).padStart(2, '0');
const dayLabel = v => {
  const d = new Date(T0 + v * DAY);
  return pad2(d.getUTCDate()) + '/' + pad2(d.getUTCMonth() + 1) + '/' + pad2(d.getUTCFullYear() % 100);
};

const series = allValues.map((vals, i) => {
  const [color, symbol, size, mColor, width, rot] = looks[i];
  const noMark = symbol === 'none';
  return {
    name: names[i],
    type: 'line',
    data: vals.map((v, k) => [xDays[k], v]),
    symbol: symbol,
    symbolSize: size || 6,
    symbolRotate: rot || 0,
    showSymbol: !noMark,
    lineStyle: {color: color, width: width || 3},
    itemStyle: {color: noMark ? color : mColor},
    emphasis: {disabled: true},
    silent: true,
    animation: false
  };
});

const legendFont = {fontFamily: 'Open Sans', fontSize: 16.5, color: '#000', lineHeight: 20};
const legends = [];
for (let c = 0; c < 8; c++) {
  legends.push({
    orient: 'vertical',
    left: 67.4 + c * 207.1,
    top: 744.6,
    padding: 0,
    itemWidth: 50,
    itemHeight: 10,
    itemGap: 9.36,
    selectedMode: false,
    textStyle: legendFont,
    data: names.filter((n, i) => i % 8 === c).map(n => {
      const i = names.indexOf(n);
      return looks[i][1] === 'none' ? {name: n, icon: 'path://M0,0H50V3H0Z'} : {name: n};
    })
  });
}

const chart = echarts.init(document.getElementById('chart'));
chart.setOption({
  animation: false,
  backgroundColor: '#fff',
  title: {
    text: 'AREA 2. VICTORIA DOCK PORTAL - ELECTROLEVELS\nLINEAR TREND LINE',
    left: 878, top: 2, padding: 0, textAlign: 'center',
    textStyle: {fontFamily: 'Open Sans', fontSize: 27.5, fontWeight: 'normal', color: '#000', lineHeight: 39}
  },
  legend: legends,
  grid: {left: 99, right: 36, top: 88, bottom: 322, show: true, borderColor: '#808080', borderWidth: 2},
  xAxis: {
    type: 'value', min: 0, max: 90, interval: 10,
    axisLine: {show: true, onZero: false, lineStyle: {color: '#000', width: 2}},
    axisTick: {show: true, inside: true, length: 7, lineStyle: {color: '#000', width: 1.5}},
    splitLine: {show: true, lineStyle: {color: '#D9D9D9', width: 1.5}},
    axisLabel: {rotate: 90, margin: 14, fontFamily: 'Open Sans', fontWeight: 'bold', fontSize: 18, color: '#000', formatter: dayLabel}
  },
  yAxis: {
    type: 'value', min: -10, max: 90, interval: 10,
    axisLine: {show: false}, axisTick: {show: false},
    splitLine: {show: true, lineStyle: {color: '#D9D9D9', width: 1.5}},
    axisLabel: {margin: 18, fontFamily: 'Open Sans', fontWeight: 'bold', fontSize: 18, color: '#000'}
  },
  graphic: [
    {type: 'text', x: 20, y: 381, rotation: Math.PI / 2, silent: true,
      style: {text: 'Movements (mm) (-) Settlement (+) Heave', font: 'bold 17.5px "Open Sans"', fill: '#000', align: 'center', verticalAlign: 'middle'}},
    {type: 'text', x: 883, y: 492, rotation: 46 * Math.PI / 180, z: 100, silent: true,
      style: {text: 'Learning Legacy Document', font: '140px "Liberation Sans"', fill: 'rgba(170,170,170,0.45)', align: 'center', verticalAlign: 'middle'}}
  ],
  series: series
});
</script>
</body>
</html>
